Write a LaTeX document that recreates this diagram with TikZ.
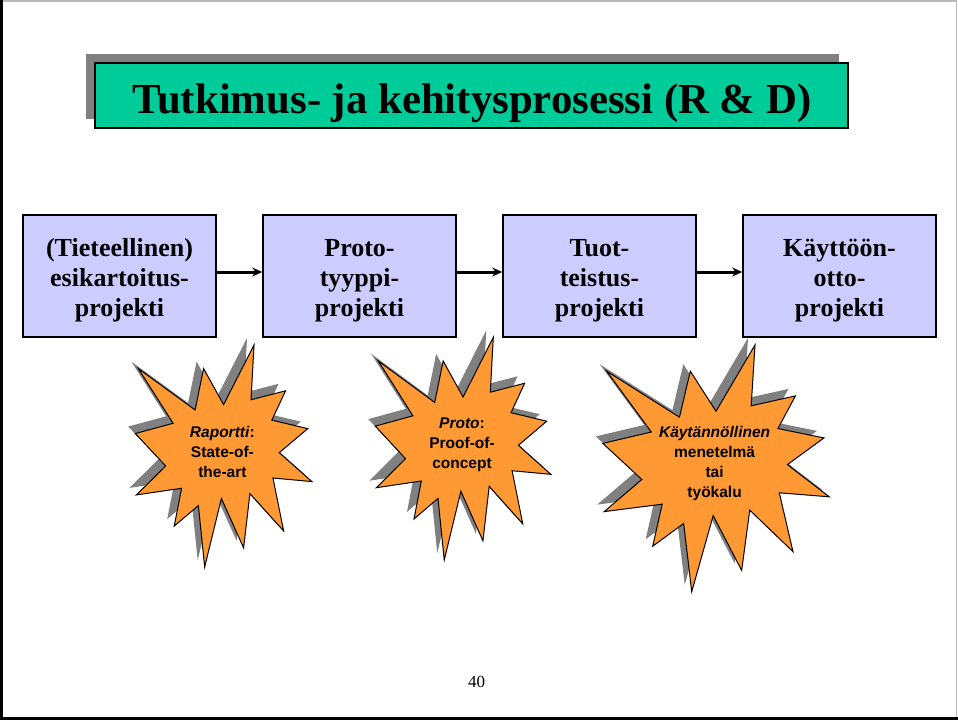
\documentclass[tikz,border=0pt]{standalone}
\usepackage{fontspec}
\setmainfont{Liberation Serif}
\newfontfamily\burstfont{Liberation Sans}
\usetikzlibrary{arrows.meta,shadows}

\definecolor{titlegreen}{HTML}{00CC99}
\definecolor{stagefill}{HTML}{CCCCFF}
\definecolor{burstfill}{HTML}{FF9933}
\definecolor{shadowgray}{HTML}{808080}

% Twelve-point explosion outline on a 216 x 216 grid
\newcommand\burstoutline[1]{%
  \path[#1] (108,58) -- (145.22,0) -- (141.55,53.25) -- (183.80,44.57)
    -- (167.02,73.15) -- (210.97,81.37) -- (176.07,104.75) -- (216,132.90)
    -- (168.37,129.42) -- (181.45,180.95) -- (140.20,144.57) -- (132.47,197.37)
    -- (105.32,149.35) -- (84.85,216) -- (77.15,156.27) -- (47.62,176.17)
    -- (56.67,139.37) -- (1.35,145.87) -- (37.22,117.75) -- (0,86.15)
    -- (46.27,76.17) -- (3.70,22.95) -- (73.12,63.20) -- (83.52,22.95) -- cycle;}

% #1,#2: top-left corner, #3: width, #4: height
\newcommand\drawburst[4]{%
  \begin{scope}[shift={(#1-7,#2-7)}, xscale=#3/216, yscale=#4/216]
    \burstoutline{fill=shadowgray}
  \end{scope}
  \begin{scope}[shift={(#1,#2)}, xscale=#3/216, yscale=#4/216]
    \burstoutline{fill=burstfill, draw=black, line width=1pt, line join=miter}
  \end{scope}}

% taller first line so the three lines sit a little lower in the box
\newcommand\stagestrut{\rule{0pt}{26pt}}

\tikzset{
  stagebox/.style={draw=black, line width=1.5pt, fill=stagefill,
    minimum width=193pt, minimum height=122pt, inner sep=0pt, align=center,
    font=\fontsize{26}{30}\selectfont\bfseries},
  titlebox/.style={draw=black, line width=1.5pt, fill=titlegreen,
    minimum width=753pt, minimum height=65pt, inner sep=0pt,
    drop shadow={shadow xshift=-9pt, shadow yshift=9pt, fill=shadowgray, opacity=1}},
  titletext/.style={font=\fontsize{42.8}{48}\selectfont\bfseries, inner sep=0pt},
  bursttext/.style={align=center, inner sep=0pt,
    font=\burstfont\fontsize{15.5}{20}\selectfont\bfseries},
  flow/.style={line width=3pt, -{Stealth[length=10pt,width=9pt]}}
}

\begin{document}
\begin{tikzpicture}[x=1pt, y=-1pt]
  \useasboundingbox (0,0) rectangle (958,720);
  \fill[white] (0,0) rectangle (958,720);

  % page frame
  \draw[gray!55, line width=1.5pt] (0,1) -- (956.5,1) -- (956.5,720);
  \draw[black, line width=3pt] (1.5,0) -- (1.5,718.5) -- (958,718.5);

  % heading
  \node[titlebox] (title) at (471.5,95.5) {};
  \node[titletext, anchor=base] (heading) at (472,113)
    {Tutkimus- ja kehitysprosessi (R \& D)};

  % process stages
  \node[stagebox] (s1) at (119.5,276) {\stagestrut(Tieteellinen)\\esikartoitus-\\projekti};
  \node[stagebox] (s2) at (359.5,276) {\stagestrut Proto-\\tyyppi-\\projekti};
  \node[stagebox] (s3) at (599.5,276) {\stagestrut Tuot-\\teistus-\\projekti};
  \node[stagebox] (s4) at (839.5,276) {\stagestrut Käyttöön-\\otto-\\projekti};

  \draw[flow] ([yshift=4pt]s1.east) -- ([yshift=4pt]s2.west);
  \draw[flow] ([yshift=4pt]s2.east) -- ([yshift=4pt]s3.west);
  \draw[flow] ([yshift=4pt]s3.east) -- ([yshift=4pt]s4.west);

  % results
  \drawburst{135.3}{345}{176.6}{222}
  \drawburst{375.3}{337.3}{175.5}{222.7}
  \drawburst{602.8}{345}{226.4}{246.7}

  \node[bursttext] (r1) at (222.4,451.7) {\textit{Raportti}:\\State-of-\\the-art};
  \node[bursttext] (r2) at (462,444.5) {\textit{Proto}:\\Proof-of-\\concept};
  \node[bursttext] (r3) at (714.6,463.5) {\textit{Käytännöllinen}\\menetelmä\\tai\\työkalu};

  % page number
  \node[font=\fontsize{17}{20}\selectfont] (pagenum) at (476.5,682) {40};
\end{tikzpicture}
\end{document}
